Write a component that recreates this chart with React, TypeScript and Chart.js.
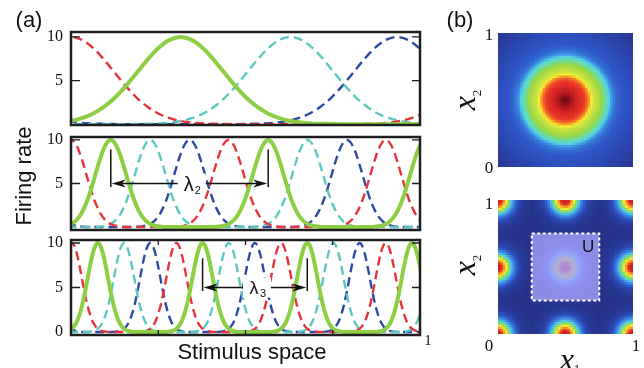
import React, { useEffect, useRef } from "react";
import { Chart, registerables } from "chart.js";
Chart.register(...registerables);

const W = 644;
const H = 368;

// ---------- Panel (a): tuning curves ----------
// one tuning bump sampled every 0.025 of its period (read from the picture)
const profileStep = 0.025;
const tuningProfile = [
  0, 0, 0, 0, 0, 0, 0.01, 0.04, 0.08, 0.18, 0.36, 0.68, 1.19, 1.97, 3.02, 4.36, 5.88, 7.42, 8.76, 9.67,
  10,
  9.67, 8.76, 7.42, 5.88, 4.36, 3.02, 1.97, 1.19, 0.68, 0.36, 0.18, 0.08, 0.04, 0.01, 0, 0, 0, 0, 0, 0,
];

const panelPeriods = [1.257, 0.451, 0.3];
const greenPeaks = [
  [-0.943, 0.314, 1.571],
  [-0.337, 0.114, 0.565, 1.016],
  [-0.223, 0.077, 0.377, 0.677, 0.977, 1.277],
];
const redPeaks = [
  [-1.257, 0.0, 1.257],
  [-0.451, 0.0, 0.451, 0.902, 1.353],
  [-0.298, 0.002, 0.302, 0.602, 0.902, 1.202],
];
const cyanPeaks = [
  [-0.628, 0.629, 1.886],
  [-0.224, 0.227, 0.678, 1.129],
  [-0.148, 0.152, 0.452, 0.752, 1.052],
];
const bluePeaks = [
  [-0.323, 0.934],
  [-0.111, 0.34, 0.791, 1.242],
  [-0.073, 0.227, 0.527, 0.827, 1.127],
];

const yTickLabels = [[5, 10], [5, 10], [0, 5, 10]];
const yTickMarks = [[5, 10], [5, 10], [5, 10]];
const xTickMarks = [[], [], [0.25, 0.5, 0.75]];
const yRanges = [[-0.1, 10.57], [-0.34, 10.34], [-0.34, 10.34]];

// lambda annotations
const lambdaPanels = [1, 2];
const lambdaFrom = [0.114, 0.377];
const lambdaTo = [0.565, 0.677];
const lambdaArrowY = [5, 5];
const lambdaBarTop = [8.9, 8.3];
const lambdaBarBottom = [4.6, 4.6];
const lambdaLabelX = [0.343, 0.53];
const lambdaSub = ["2", "3"];

// ---------- Panel (b): firing maps ----------
const topBumpCenters = [[0.5, 0.5]];
const topProfileR = [0, 0.04, 0.1, 0.15, 0.175, 0.19, 0.21, 0.27, 0.3, 0.325, 0.345, 0.37, 0.42, 0.5, 0.6, 0.72];
const topProfileLevel = [1.0, 0.95, 0.86, 0.8, 0.72, 0.63, 0.57, 0.5, 0.43, 0.38, 0.3, 0.24, 0.2, 0.17, 0.13, 0.08];

const gridBumpCenters = [
  [0, 0], [0.5, 0], [1, 0],
  [0, 0.5], [0.5, 0.5], [1, 0.5],
  [0, 1], [0.5, 1], [1, 1],
];
const gridProfileR = [0, 0.03, 0.05, 0.067, 0.085, 0.1, 0.125, 0.16, 0.2, 0.28];
const gridProfileLevel = [0.92, 0.85, 0.7, 0.6, 0.47, 0.37, 0.26, 0.15, 0.1, 0.08];

const regionU = [0.25, 0.75, 0.25, 0.75]; // x0, x1, y0, y1

// ---------- styles ----------
const GREEN = "#8ccf45";
const RED = "#e8333b";
const CYAN = "#5cc9c1";
const BLUE = "#2c4aa5";
const FRAME = "#1e1e1e";

const panelTops = [32, 137, 240];
const panelBottoms = [125, 230, 335];
const PANEL_LEFT = 71;
const PANEL_RIGHT = 420;

const N_CELLS = 54;

const cmapStops: [number, number, number, number][] = [
  [0.0, 28, 36, 110],
  [0.08, 39, 51, 138],
  [0.14, 42, 66, 170],
  [0.2, 46, 86, 200],
  [0.3, 62, 150, 230],
  [0.38, 84, 214, 224],
  [0.44, 112, 220, 150],
  [0.5, 152, 214, 72],
  [0.62, 250, 238, 52],
  [0.72, 245, 140, 36],
  [0.82, 234, 50, 40],
  [0.92, 188, 24, 30],
  [1.0, 100, 10, 20],
];

function cmap(v: number) {
  const t = Math.max(0, Math.min(1, v));
  for (let i = 1; i < cmapStops.length; i++) {
    const a = cmapStops[i - 1];
    const b = cmapStops[i];
    if (t <= b[0]) {
      const f = (t - a[0]) / (b[0] - a[0]);
      const r = Math.round(a[1] + (b[1] - a[1]) * f);
      const g = Math.round(a[2] + (b[2] - a[2]) * f);
      const bb = Math.round(a[3] + (b[3] - a[3]) * f);
      return `rgb(${r},${g},${bb})`;
    }
  }
  const l = cmapStops[cmapStops.length - 1];
  return `rgb(${l[1]},${l[2]},${l[3]})`;
}

function profileAt(r: number, rs: number[], ls: number[]) {
  if (r <= rs[0]) return ls[0];
  for (let i = 1; i < rs.length; i++) {
    if (r <= rs[i]) {
      const f = (r - rs[i - 1]) / (rs[i] - rs[i - 1]);
      return ls[i - 1] + (ls[i] - ls[i - 1]) * f;
    }
  }
  return ls[ls.length - 1];
}

function buildCells(centers: number[][], rs: number[], ls: number[]) {
  const pts: { x: number; y: number }[] = [];
  const cols: string[] = [];
  for (let j = 0; j < N_CELLS; j++) {
    for (let i = 0; i < N_CELLS; i++) {
      const x = (i + 0.5) / N_CELLS;
      const y = (j + 0.5) / N_CELLS;
      let v = 0;
      for (const c of centers) {
        const d = Math.hypot(x - c[0], y - c[1]);
        v = Math.max(v, profileAt(d, rs, ls));
      }
      pts.push({ x, y });
      cols.push(cmap(v));
    }
  }
  return { pts, cols };
}

function buildCurve(peaks: number[], period: number) {
  const pts: { x: number; y: number }[] = [];
  const half = (tuningProfile.length - 1) / 2;
  for (const c of peaks) {
    tuningProfile.forEach((v, k) => {
      const x = c + (k - half) * profileStep * period;
      if (pts.length && x <= pts[pts.length - 1].x + 1e-9) return;
      pts.push({ x, y: v });
    });
  }
  return pts;
}

function makeLineChart(canvas: HTMLCanvasElement, i: number) {
  const period = panelPeriods[i];
  const dashed = (data: any, color: string) => ({
    data,
    borderColor: color,
    borderWidth: 2.4,
    borderDash: [9, 5],
    pointRadius: 0,
    fill: false,
  });
  const framePlugin = {
    id: "frame" + i,
    afterDatasetsDraw(chart: any) {
      const { ctx, chartArea } = chart;
      const xs = chart.scales.x;
      const ys = chart.scales.y;
      ctx.save();
      ctx.strokeStyle = FRAME;
      ctx.lineWidth = 1.3;
      ctx.beginPath();
      for (const v of yTickMarks[i]) {
        const py = ys.getPixelForValue(v);
        ctx.moveTo(chartArea.left, py);
        ctx.lineTo(chartArea.left + 9, py);
        ctx.moveTo(chartArea.right, py);
        ctx.lineTo(chartArea.right - 8, py);
      }
      for (const v of xTickMarks[i]) {
        const px = xs.getPixelForValue(v);
        ctx.moveTo(px, chartArea.top);
        ctx.lineTo(px, chartArea.top + 5);
        ctx.moveTo(px, chartArea.bottom);
        ctx.lineTo(px, chartArea.bottom - 5);
      }
      ctx.stroke();
      ctx.lineWidth = 2.5;
      ctx.strokeRect(chartArea.left, chartArea.top, chartArea.right - chartArea.left, chartArea.bottom - chartArea.top);

      const li = lambdaPanels.indexOf(i);
      if (li >= 0) {
        const x1 = xs.getPixelForValue(lambdaFrom[li]);
        const x2 = xs.getPixelForValue(lambdaTo[li]);
        const ay = ys.getPixelForValue(lambdaArrowY[li]);
        const bt = ys.getPixelForValue(lambdaBarTop[li]);
        const bb = ys.getPixelForValue(lambdaBarBottom[li]);
        ctx.strokeStyle = "#111";
        ctx.fillStyle = "#111";
        ctx.lineWidth = 1.5;
        ctx.beginPath();
        ctx.moveTo(x1, bt);
        ctx.lineTo(x1, bb);
        ctx.moveTo(x2, bt);
        ctx.lineTo(x2, bb);
        ctx.moveTo(x1 + 6, ay);
        ctx.lineTo(x2 - 6, ay);
        ctx.stroke();
        const head = (tip: number, dir: number) => {
          ctx.beginPath();
          ctx.moveTo(tip, ay);
          ctx.lineTo(tip + dir * 14, ay - 4);
          ctx.lineTo(tip + dir * 10, ay);
          ctx.lineTo(tip + dir * 14, ay + 4);
          ctx.closePath();
          ctx.fill();
        };
        head(x1 + 1, 1);
        head(x2 - 1, -1);
        const lx = xs.getPixelForValue(lambdaLabelX[li]);
        const big = li === 0 ? 20 : 18;
        ctx.fillStyle = "#fff";
        ctx.fillRect(lx - 13, ay - 10, 28, 20);
        ctx.fillStyle = "#111";
        ctx.font = `${big}px "Liberation Sans"`;
        ctx.textAlign = "center";
        ctx.textBaseline = "alphabetic";
        ctx.fillText("λ", lx - 2, ay + big * 0.36);
        ctx.font = `11px "Liberation Sans"`;
        ctx.fillText(lambdaSub[li], lx + 7, ay + big * 0.36 + 3);
      }
      ctx.restore();
    },
  };
  return new Chart(canvas, {
    type: "line",
    data: {
      datasets: [
        {
          data: buildCurve(greenPeaks[i], period),
          borderColor: GREEN,
          borderWidth: 4,
          pointRadius: 0,
          fill: false,
        },
        dashed(buildCurve(redPeaks[i], period), RED),
        dashed(buildCurve(cyanPeaks[i], period), CYAN),
        dashed(buildCurve(bluePeaks[i], period), BLUE),
      ],
    },
    options: {
      responsive: false,
      animation: false,
      events: [],
      layout: { padding: { left: 0, right: W - PANEL_RIGHT, top: panelTops[i], bottom: H - panelBottoms[i] } },
      plugins: { legend: { display: false }, tooltip: { enabled: false } },
      elements: { line: { cubicInterpolationMode: "monotone" } },
      scales: {
        x: { type: "linear", min: 0, max: 1, display: false },
        y: {
          type: "linear",
          min: yRanges[i][0],
          max: yRanges[i][1],
          grid: { display: false, drawTicks: false },
          border: { display: false },
          ticks: { font: { family: '"Liberation Serif", serif', size: 16 }, color: "#111", padding: 8 },
          afterBuildTicks: (s: any) => {
            s.ticks = yTickLabels[i].map((v) => ({ value: v }));
          },
          afterFit: (s: any) => {
            s.width = PANEL_LEFT;
          },
        },
      },
    } as any,
    plugins: [framePlugin],
  });
}

function makeHeatChart(canvas: HTMLCanvasElement, which: number) {
  const cells =
    which === 0
      ? buildCells(topBumpCenters, topProfileR, topProfileLevel)
      : buildCells(gridBumpCenters, gridProfileR, gridProfileLevel);
  const top = which === 0 ? 33 : 200;
  const bottom = which === 0 ? 167 : 334;
  const overlay = {
    id: "overlay" + which,
    afterDatasetsDraw(chart: any) {
      if (which !== 1) return;
      const { ctx } = chart;
      const xs = chart.scales.x;
      const ys = chart.scales.y;
      const x0 = xs.getPixelForValue(regionU[0]);
      const x1 = xs.getPixelForValue(regionU[1]);
      const y0 = ys.getPixelForValue(regionU[3]);
      const y1 = ys.getPixelForValue(regionU[2]);
      ctx.save();
      ctx.fillStyle = "rgba(165,162,253,0.8)";
      ctx.fillRect(x0, y0, x1 - x0, y1 - y0);
      ctx.strokeStyle = "#ffffff";
      ctx.lineWidth = 2;
      ctx.setLineDash([3, 2.5]);
      ctx.strokeRect(x0, y0, x1 - x0, y1 - y0);
      ctx.setLineDash([]);
      ctx.fillStyle = "#111";
      ctx.font = '17px "Liberation Sans"';
      ctx.textAlign = "center";
      ctx.textBaseline = "middle";
      ctx.fillText("U", xs.getPixelForValue(0.667), ys.getPixelForValue(0.65));
      ctx.restore();
    },
  };
  return new Chart(canvas, {
    type: "scatter",
    data: {
      datasets: [
        {
          data: cells.pts,
          pointBackgroundColor: cells.cols,
          pointBorderWidth: 0,
          pointStyle: "rect",
          pointRadius: (ctx: any) => {
            const xs = ctx.chart.scales.x;
            const side = Math.abs(xs.getPixelForValue(1 / N_CELLS) - xs.getPixelForValue(0));
            return (side + 0.7) / Math.SQRT2;
          },
          clip: 0,
        },
      ],
    },
    options: {
      responsive: false,
      animation: false,
      events: [],
      layout: { padding: { left: 498, right: W - 633, top, bottom: H - bottom } },
      plugins: { legend: { display: false }, tooltip: { enabled: false } },
      scales: {
        x: { type: "linear", min: 0, max: 1, display: false },
        y: { type: "linear", min: 0, max: 1, display: false },
      },
    } as any,
    plugins: [overlay],
  });
}

function Txt(props: {
  x: number;
  y: number;
  size: number;
  family: string;
  italic?: boolean;
  rot?: number;
  children: any;
}) {
  const { x, y, size, family, italic, rot, children } = props;
  return (
    <div
      style={{
        position: "absolute",
        left: x,
        top: y,
        transform: `translate(-50%,-50%)${rot ? ` rotate(${rot}deg)` : ""}`,
        fontFamily: family,
        fontSize: size,
        fontStyle: italic ? "italic" : "normal",
        lineHeight: 1,
        whiteSpace: "nowrap",
        color: "#111",
      }}
    >
      {children}
    </div>
  );
}

const SANS = '"Liberation Sans", Arial, sans-serif';
const SERIF = '"Liberation Serif", "Times New Roman", serif';

function XLabel(props: { sub: string; drop?: number }) {
  return (
    <span>
      <span style={{ fontStyle: "italic", fontSize: 32 }}>x</span>
      <span style={{ fontStyle: "normal", fontSize: 13, verticalAlign: -(props.drop ?? 6) }}>{props.sub}</span>
    </span>
  );
}

export default function App() {
  const refs = [useRef<HTMLCanvasElement>(null), useRef<HTMLCanvasElement>(null), useRef<HTMLCanvasElement>(null), useRef<HTMLCanvasElement>(null), useRef<HTMLCanvasElement>(null)];
  useEffect(() => {
    const charts: Chart[] = [];
    for (let i = 0; i < 3; i++) charts.push(makeLineChart(refs[i].current!, i));
    charts.push(makeHeatChart(refs[3].current!, 0));
    charts.push(makeHeatChart(refs[4].current!, 1));
    return () => charts.forEach((c) => c.destroy());
  }, []);
  return (
    <div style={{ position: "absolute", left: 0, top: 0, width: W, height: H, overflow: "hidden", background: "#fff" }}>
      {refs.map((r, k) => (
        <canvas key={k} ref={r} width={W} height={H} style={{ position: "absolute", left: 0, top: 0, width: W, height: H }} />
      ))}
      <Txt x={29} y={20} size={22} family={SANS}>(a)</Txt>
      <Txt x={460} y={20} size={22} family={SANS}>(b)</Txt>
      <Txt x={23.5} y={176} size={22} family={SANS} rot={-90}>Firing rate</Txt>
      <Txt x={252} y={352} size={22} family={SANS}>Stimulus space</Txt>
      <Txt x={428} y={340} size={15} family={SERIF}>1</Txt>
      <Txt x={489} y={34} size={17} family={SERIF}>1</Txt>
      <Txt x={489} y={167} size={17} family={SERIF}>0</Txt>
      <Txt x={489} y={203} size={17} family={SERIF}>1</Txt>
      <Txt x={489} y={345} size={17} family={SERIF}>0</Txt>
      <Txt x={636} y={345} size={17} family={SERIF}>1</Txt>
      <Txt x={465} y={100} size={32} family={SERIF} rot={-90}><XLabel sub="2" /></Txt>
      <Txt x={465} y={265} size={32} family={SERIF} rot={-90}><XLabel sub="2" /></Txt>
      <Txt x={570} y={359} size={32} family={SERIF}><XLabel sub="1" drop={3} /></Txt>
    </div>
  );
}
